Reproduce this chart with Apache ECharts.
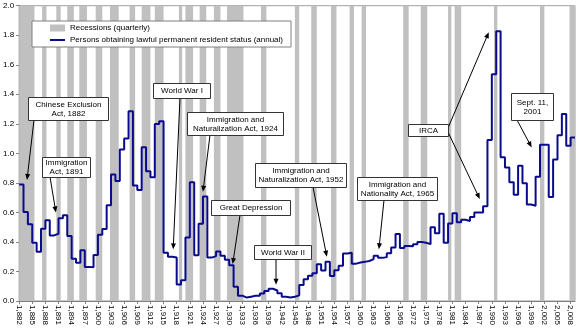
<!DOCTYPE html>
<html><head><meta charset="utf-8">
<script src="https://cdn.jsdelivr.net/npm/echarts@6/dist/echarts.min.js"></script>
<style>html,body{margin:0;padding:0;background:#fff}#c{width:578px;height:328px}</style>
</head><body><div id="c"></div>
<script>
// ---- data ----
const firstYear = 1882;
// persons obtaining lawful permanent resident status, millions, 1882..2008
const immigrants = [
 0.789,0.603,0.519,0.395,0.334,0.490,0.547,0.444,0.455,0.560,
 0.580,0.440,0.286,0.259,0.343,0.231,0.229,0.312,0.449,0.488,
 0.649,0.857,0.813,1.026,1.101,1.285,0.783,0.752,1.042,0.879,
 0.838,1.198,1.218,0.327,0.299,0.295,0.111,0.141,0.430,0.805,
 0.310,0.523,0.707,0.294,0.304,0.335,0.307,0.280,0.242,0.097,
 0.036,0.023,0.029,0.035,0.036,0.050,0.068,0.083,0.071,0.052,
 0.029,0.024,0.029,0.038,0.109,0.147,0.171,0.188,0.249,0.206,
 0.266,0.170,0.208,0.238,0.322,0.327,0.253,0.261,0.265,0.271,
 0.284,0.306,0.292,0.297,0.323,0.362,0.454,0.359,0.373,0.370,
 0.385,0.399,0.394,0.385,0.499,0.459,0.590,0.394,0.524,0.595,
 0.534,0.550,0.542,0.568,0.600,0.600,0.641,1.090,1.536,1.827,
 0.974,0.904,0.804,0.720,0.916,0.798,0.653,0.645,0.841,1.059,
 1.059,0.704,0.958,1.122,1.266,1.052,1.107
];
const years = immigrants.map((_, i) => firstYear + i);
// recessions (quarterly), as fractional years
const recessionStart = [1882.0,1887.25,1890.5,1893.0,1895.75,1899.5,1902.75,1907.25,1910.0,1913.0,1918.5,1920.0,1923.25,1926.5,1929.5,1937.25,1945.0,1948.75,1953.25,1957.5,1960.25,1969.75,1973.75,1980.0,1981.5,1990.5,2001.0,2007.75];
const recessionEnd   = [1885.5,1888.25,1891.5,1894.5,1897.5,1901.0,1904.75,1908.5,1912.0,1915.0,1919.25,1921.75,1924.75,1928.0,1933.25,1938.5,1946.0,1950.0,1954.5,1958.5,1961.25,1971.0,1975.25,1980.75,1983.0,1991.25,2002.0,2009.0];
const yTicks = [0,0.2,0.4,0.6,0.8,1.0,1.2,1.4,1.6,1.8,2.0];

// annotations: text lines, box (px), arrows from box (px) to data point [year, value]
const notes = [
 {text:['Chinese Exclusion','Act, 1882'], box:[28,97,80,23], arrows:[{from:[34,120], to:[1883.8,0.82]}]},
 {text:['Immigration','Act, 1891'], box:[42,157,48,20], arrows:[{from:[50,177], to:[1890.4,0.60]}]},
 {text:['World War I'], box:[153,83,57,15], arrows:[{from:[180,98], to:[1917.2,0.35]}]},
 {text:['Immigration and','Naturalization Act, 1924'], box:[187,112,96,23], arrows:[{from:[210,135], to:[1924.0,0.74]}]},
 {text:['Great Depression'], box:[211,200,79,15], arrows:[{from:[240,215], to:[1930.8,0.25]}]},
 {text:['World War II'], box:[254,245,57,14], arrows:[{from:[276,259], to:[1940.7,0.11]}]},
 {text:['Immigration and','Naturalization Act, 1952'], box:[255,163,91,24], arrows:[{from:[313,187], to:[1952.3,0.30]}]},
 {text:['Immigration and','Nationality Act, 1965'], box:[357,177,80,23], arrows:[{from:[384,200], to:[1964.2,0.35]}]},
 {text:['IRCA'], box:[408,124,40,12], arrows:[{from:[448,128], to:[1989.3,1.82]},{from:[448,132], to:[1987.25,0.69]}]},
 {text:['Sept. 11,','2001'], box:[511,93,42,27], arrows:[{from:[517,120], to:[1999.1,1.04]}]}
];

const FONT = 'Liberation Sans, Arial, sans-serif';
const LINE_COLOR = '#0A0A8C';
const chart = echarts.init(document.getElementById('c'));
const lineData = years.map((y, i) => [y, immigrants[i]]);
lineData.push([years[years.length - 1] + 1, immigrants[immigrants.length - 1]]);

const option = {
  animation: false,
  textStyle: {fontFamily: FONT},
  grid: {left: 19, right: 3, top: 5.7, bottom: 26.3, show: true, borderColor: '#a0a0a0', borderWidth: 1},
  legend: {
    orient: 'vertical', left: 32, top: 21,
    backgroundColor: '#fff', borderColor: '#808080', borderWidth: 1,
    padding: [3, 8, 3, 17], itemGap: 4, itemWidth: 15, itemHeight: 7,
    textStyle: {fontSize: 8, color: '#000', fontFamily: FONT},
    data: [
      {name: 'Recessions (quarterly)', icon: 'rect', itemStyle: {color: '#C0C0C0'}},
      {name: 'Persons obtaining lawful permanent resident status (annual)',
       itemStyle: {color: 'rgba(0,0,0,0)', borderWidth: 0, borderColor: 'rgba(0,0,0,0)'},
       lineStyle: {color: LINE_COLOR, width: 2}}
    ]
  },
  xAxis: {
    type: 'value', min: 1882, max: 2009, interval: 3,
    axisLine: {show: true, onZero: false, lineStyle: {color: '#808080'}},
    axisTick: {show: true, length: 3, lineStyle: {color: '#808080'}},
    splitLine: {show: false},
    axisLabel: {rotate: -90, fontSize: 8, color: '#000', margin: 4, showMaxLabel: false, fontFamily: FONT}
  },
  yAxis: {
    type: 'value', min: yTicks[0], max: yTicks[yTicks.length - 1], interval: 0.2,
    axisLine: {show: true, lineStyle: {color: '#808080'}},
    axisTick: {show: true, length: 3, lineStyle: {color: '#808080'}},
    splitLine: {show: false},
    axisLabel: {fontSize: 8, color: '#000', margin: 5, fontFamily: FONT, formatter: v => v.toFixed(1)}
  },
  series: [
    {
      name: 'Recessions (quarterly)', type: 'line', data: [], z: 1,
      itemStyle: {color: '#C0C0C0'},
      markArea: {
        silent: true,
        itemStyle: {color: '#C0C0C0', opacity: 1},
        data: recessionStart.map((s, i) => [{xAxis: s}, {xAxis: recessionEnd[i]}])
      }
    },
    {
      name: 'Persons obtaining lawful permanent resident status (annual)', type: 'line',
      step: 'end', symbol: 'none', showSymbol: false, z: 3,
      itemStyle: {color: LINE_COLOR},
      lineStyle: {color: LINE_COLOR, width: 2},
      data: lineData
    }
  ]
};
chart.setOption(option);

const graphics = [];
notes.forEach(n => {
  n.arrows.forEach(a => {
    const tip = chart.convertToPixel({gridIndex: 0}, a.to);
    const [x1, y1] = a.from; const [x2, y2] = tip;
    const dx = x2 - x1, dy = y2 - y1, L = Math.hypot(dx, dy);
    const ux = dx / L, uy = dy / L, px = -uy, py = ux;
    const hl = 6, hw = 2.5;
    graphics.push({type: 'line', z: 50, shape: {x1, y1, x2: x2 - ux * hl * 0.8, y2: y2 - uy * hl * 0.8}, style: {stroke: '#000', lineWidth: 1}});
    graphics.push({type: 'polygon', z: 50, shape: {points: [[x2, y2], [x2 - ux * hl + px * hw, y2 - uy * hl + py * hw], [x2 - ux * hl - px * hw, y2 - uy * hl - py * hw]]}, style: {fill: '#000'}});
  });
  const [bx, by, bw, bh] = n.box;
  graphics.push({type: 'rect', z: 60, shape: {x: bx + 0.5, y: by + 0.5, width: bw, height: bh}, style: {fill: '#fff', stroke: '#333', lineWidth: 1}});
  graphics.push({type: 'text', z: 61, x: bx + bw / 2 + 0.5, y: by + bh / 2 + 0.5,
    style: {text: n.text.join('\n'), fontSize: 8, fontFamily: FONT, fill: '#000', align: 'center', verticalAlign: 'middle', lineHeight: 9}});
});
chart.setOption({graphic: graphics});
</script>
</body></html>
